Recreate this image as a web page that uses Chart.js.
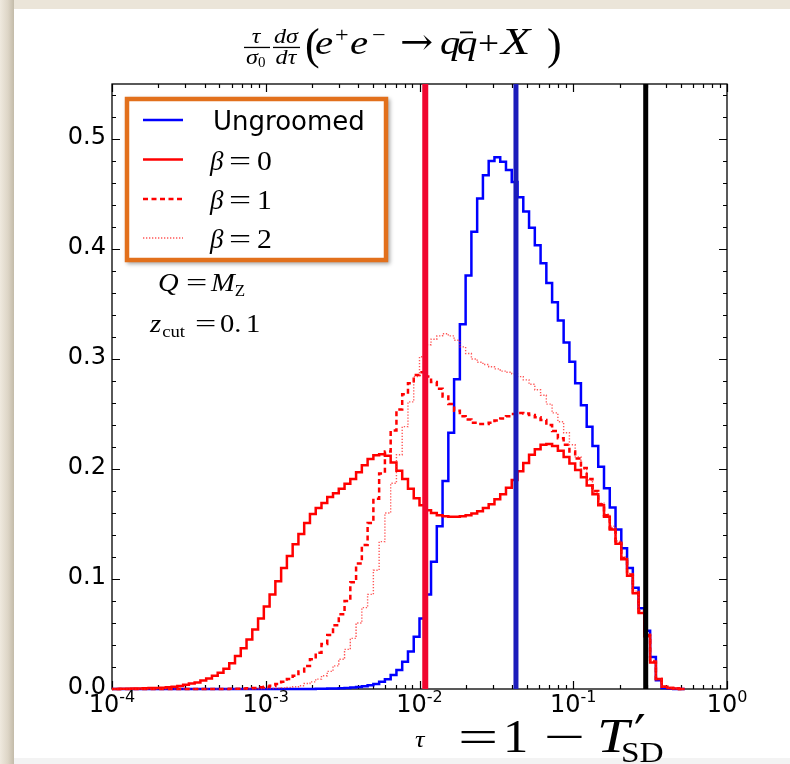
<!DOCTYPE html>
<html>
<head>
<meta charset="utf-8">
<title>tau distribution</title>
<script src="https://cdn.jsdelivr.net/npm/chart.js@4.4.0/dist/chart.umd.min.js"></script>
<style>
  html, body { margin: 0; padding: 0; }
  body {
    width: 790px; height: 764px; overflow: hidden; position: relative;
    background: linear-gradient(to right, #efe9de 0px, #ddd5c6 8px, #c3bba9 14px, #ebe5d9 14px);
  }
  #card { position: absolute; left: 14px; top: 9px; width: 776px; height: 749px; background: #fff; }
  #floor { position: absolute; left: 14px; top: 758px; width: 776px; height: 6px; background: #f3f3f3; }
  #tauChart { position: absolute; left: 0; top: 0; }
</style>
</head>
<body>
<div id="card"></div>
<div id="floor"></div>
<canvas id="tauChart" width="790" height="764"></canvas>
<script>
// histogram binning: uniform in log10(tau)
const tauBinStartLog = -4.025;
const tauBinWidthLog = 0.0375;

// bin contents, one value per bin
const ungroomed = [
  0, 0, 0, 0, 0, 0, 0, 0, 0, 0,
  0, 0, 0, 0, 0, 0, 0, 0, 0, 0,
  0, 0, 0, 0, 0, 0, 0, 0, 0, 0,
  0, 0, 0, 0, 0, 0, 0.0002, 0.0003, 0.0004, 0.0005,
  0.0007, 0.001, 0.0013, 0.0018, 0.0025, 0.0035, 0.0045, 0.0066, 0.0088, 0.0127,
  0.0173, 0.0248, 0.034, 0.0475, 0.064, 0.086, 0.1157, 0.148, 0.189, 0.233,
  0.2815, 0.3315, 0.376, 0.4157, 0.446, 0.467, 0.480, 0.4833, 0.4794, 0.4718,
  0.461, 0.447, 0.434, 0.4194, 0.4033, 0.387, 0.369, 0.3515, 0.335, 0.315,
  0.2976, 0.278, 0.258, 0.2385, 0.221, 0.202, 0.1824, 0.165, 0.145, 0.128,
  0.110, 0.092, 0.0733, 0.053, 0.029, 0.008, 0.001, 0.0005, 0, 0
];
const beta0 = [
  0, 0, 0.0002, 0.0003, 0.0004, 0.0005, 0.0006, 0.0008, 0.001, 0.0012,
  0.0015, 0.002, 0.0027, 0.0038, 0.005, 0.006, 0.0077, 0.0095, 0.012, 0.0148,
  0.0185, 0.0235, 0.030, 0.037, 0.045, 0.054, 0.064, 0.075, 0.086, 0.098,
  0.110, 0.121, 0.1315, 0.141, 0.151, 0.159, 0.1645, 0.169, 0.1745, 0.178,
  0.182, 0.1865, 0.191, 0.197, 0.2035, 0.209, 0.2125, 0.2135, 0.212, 0.206,
  0.1985, 0.191, 0.182, 0.1735, 0.167, 0.1625, 0.160, 0.158, 0.157, 0.1567,
  0.1567, 0.157, 0.158, 0.1595, 0.1615, 0.1645, 0.168, 0.1725, 0.177, 0.183,
  0.190, 0.198, 0.2055, 0.213, 0.218, 0.222, 0.2227, 0.221, 0.2165, 0.211,
  0.205, 0.199, 0.1925, 0.185, 0.177, 0.167, 0.1565, 0.145, 0.132, 0.118,
  0.103, 0.087, 0.069, 0.048, 0.024, 0.009, 0.002, 0.001, 0.0005, 0
];
const beta1 = [
  0, 0, 0, 0, 0, 0, 0, 0, 0, 0,
  0, 0, 0, 0, 0, 0, 0, 0, 0, 0,
  0, 0.0002, 0.0003, 0.0005, 0.0007, 0.001, 0.0015, 0.002, 0.003, 0.0045,
  0.0065, 0.009, 0.012, 0.016, 0.021, 0.027, 0.033, 0.041, 0.049, 0.058,
  0.068, 0.080, 0.097, 0.114, 0.131, 0.151, 0.173, 0.196, 0.216, 0.235,
  0.254, 0.268, 0.278, 0.2855, 0.288, 0.284, 0.279, 0.273, 0.266, 0.259,
  0.253, 0.248, 0.245, 0.242, 0.241, 0.241, 0.242, 0.244, 0.246, 0.248,
  0.250, 0.251, 0.2505, 0.249, 0.247, 0.2445, 0.240, 0.2345, 0.228, 0.222,
  0.216, 0.2095, 0.201, 0.191, 0.180, 0.168, 0.158, 0.146, 0.133, 0.119,
  0.104, 0.088, 0.070, 0.049, 0.025, 0.009, 0.002, 0.001, 0.0005, 0
];
const beta2 = [
  0, 0, 0, 0, 0, 0, 0, 0, 0, 0,
  0, 0, 0, 0, 0, 0, 0, 0, 0, 0,
  0, 0, 0, 0, 0, 0, 0.0002, 0.0003, 0.0005, 0.0007,
  0.001, 0.0015, 0.002, 0.003, 0.005, 0.0065, 0.009, 0.012, 0.016, 0.021,
  0.027, 0.036, 0.046, 0.060, 0.074, 0.086, 0.108, 0.134, 0.160, 0.187,
  0.213, 0.2385, 0.261, 0.284, 0.302, 0.313, 0.318, 0.321, 0.323, 0.321,
  0.317, 0.311, 0.305, 0.300, 0.297, 0.295, 0.293, 0.291, 0.289, 0.288,
  0.2865, 0.284, 0.281, 0.277, 0.272, 0.267, 0.259, 0.251, 0.243, 0.233,
  0.222, 0.211, 0.200, 0.190, 0.179, 0.169, 0.159, 0.148, 0.1345, 0.120,
  0.105, 0.089, 0.071, 0.050, 0.026, 0.009, 0.002, 0.001, 0.0005, 0
];

// vertical markers (tau values)
const markerTau = [0.0109, 0.0424, 0.296];

// axis ticks
const xTickExponents = [-4, -3, -2, -1, 0];
const yTickValues = [0, 0.1, 0.2, 0.3, 0.4, 0.5];
const yTickLabels = ['0.0', '0.1', '0.2', '0.3', '0.4', '0.5'];

// legend
const legendLabels = ['Ungroomed', '\u03b2', '\u03b2', '\u03b2'];
const betaValues = [null, '0', '1', '2'];

const SERIF = '"Liberation Serif", "DejaVu Serif", serif';
const MATHOP = '"DejaVu Serif", serif';
const SANS = '"DejaVu Sans", sans-serif';

function binEdge(k) {
    return Math.pow(10, tauBinStartLog + k * tauBinWidthLog);
}

// turn bin contents into step outline points
function histPoints(values) {
    const pts = [];
    values.forEach(function(v, k) {
        pts.push({ x: binEdge(k), y: v });
        pts.push({ x: binEdge(k + 1), y: v });
    });
    return pts;
}

function markerPoints(t) {
    return [{ x: t, y: 0 }, { x: t, y: 0.55 }];
}

const histStyle = { pointRadius: 0, borderJoinStyle: 'miter', borderCapStyle: 'butt', clip: { left: 0, top: 0, right: 0, bottom: 4 } };

const datasets = [
    { label: 'marker0', data: markerPoints(markerTau[0]), borderColor: '#f0062f', borderWidth: 6, order: 0, pointRadius: 0 },
    { label: 'marker1', data: markerPoints(markerTau[1]), borderColor: '#1c1cbb', borderWidth: 5, order: 0, pointRadius: 0 },
    { label: 'marker2', data: markerPoints(markerTau[2]), borderColor: '#000000', borderWidth: 5, order: 0, pointRadius: 0 },
    Object.assign({ label: 'beta2', data: histPoints(beta2), borderColor: 'rgba(255,30,30,0.75)', borderWidth: 1.4, borderDash: [1.3, 1.7], order: 1 }, histStyle),
    Object.assign({ label: 'beta1', data: histPoints(beta1), borderColor: '#ff0000', borderWidth: 2.5, borderDash: [5, 3.5], order: 2 }, histStyle),
    Object.assign({ label: 'beta0', data: histPoints(beta0), borderColor: '#ff0000', borderWidth: 2.5, order: 3 }, histStyle),
    Object.assign({ label: 'ungroomed', data: histPoints(ungroomed), borderColor: '#0000ff', borderWidth: 2.5, order: 4 }, histStyle)
];

// draw a text piece, optionally stretched sideways (the TeX fonts run wider)
function put(ctx, str, x, y, font, sx) {
    sx = sx || 1;
    ctx.font = font;
    ctx.save();
    ctx.translate(x, y);
    ctx.scale(sx, 1);
    ctx.fillText(str, 0, 0);
    ctx.restore();
    return x + ctx.measureText(str).width * sx;
}

function putCentered(ctx, str, cx, y, font, sx) {
    sx = sx || 1;
    ctx.font = font;
    put(ctx, str, cx - ctx.measureText(str).width * sx / 2, y, font, sx);
}

// frame and inward ticks, drawn under the data
const axesFrame = {
    id: 'axesFrame',
    beforeDatasetsDraw(chart) {
        const ctx = chart.ctx;
        const a = chart.chartArea;
        const xs = chart.scales.x;
        const ys = chart.scales.y;
        ctx.save();
        ctx.strokeStyle = '#000';
        ctx.lineWidth = 1.3;
        ctx.strokeRect(a.left, a.top, a.right - a.left, a.bottom - a.top);
        ctx.lineWidth = 1.2;
        ctx.beginPath();
        function vtick(px, len) {
            ctx.moveTo(px, a.bottom); ctx.lineTo(px, a.bottom - len);
            ctx.moveTo(px, a.top); ctx.lineTo(px, a.top + len);
        }
        function htick(py, len) {
            ctx.moveTo(a.left, py); ctx.lineTo(a.left + len, py);
            ctx.moveTo(a.right, py); ctx.lineTo(a.right - len, py);
        }
        xTickExponents.forEach(function(e, i) {
            const base = Math.pow(10, e);
            vtick(Math.round(xs.getPixelForValue(base)) + 0.5, 8);
            if (i < xTickExponents.length - 1) {
                for (let m = 2; m <= 9; m++) {
                    vtick(Math.round(xs.getPixelForValue(m * base)) + 0.5, 4);
                }
            }
        });
        for (let i = 1; i <= 27; i++) {
            const py = Math.round(ys.getPixelForValue(i * 0.02)) + 0.5;
            htick(py, i % 5 === 0 ? 8 : 4);
        }
        ctx.stroke();
        ctx.restore();
    }
};

// tick labels, legend, annotations, title and axis label
const textLayer = {
    id: 'textLayer',
    afterDatasetsDraw(chart) {
        const ctx = chart.ctx;
        const xs = chart.scales.x;
        const ys = chart.scales.y;
        ctx.save();
        ctx.fillStyle = '#000';
        ctx.textBaseline = 'alphabetic';

        // x tick labels 10^n
        xTickExponents.forEach(function(e) {
            const px = xs.getPixelForValue(Math.pow(10, e));
            ctx.font = '24px ' + SANS;
            const w1 = ctx.measureText('10').width;
            ctx.font = '16px ' + SANS;
            const sup = e === 0 ? '0' : '-' + Math.abs(e);
            const w2 = ctx.measureText(sup).width;
            const x0 = px - (w1 + w2) / 2;
            put(ctx, '10', x0, 712, '24px ' + SANS);
            put(ctx, sup, x0 + w1, 702, '16px ' + SANS);
        });

        // y tick labels
        ctx.textAlign = 'right';
        ctx.textBaseline = 'middle';
        ctx.font = '24px ' + SANS;
        yTickValues.forEach(function(v, i) {
            ctx.fillText(yTickLabels[i], 106, ys.getPixelForValue(v) - 1);
        });
        ctx.textAlign = 'left';
        ctx.textBaseline = 'alphabetic';

        // legend box
        ctx.save();
        ctx.shadowColor = 'rgba(0,0,0,0.35)';
        ctx.shadowBlur = 4;
        ctx.shadowOffsetX = 2;
        ctx.shadowOffsetY = 2;
        ctx.fillStyle = '#ffffff';
        ctx.fillRect(125, 97, 263, 165);
        ctx.restore();
        ctx.save();
        ctx.strokeStyle = '#e2701c';
        ctx.lineWidth = 4.5;
        ctx.strokeRect(127, 99, 259, 161);
        ctx.restore();

        const rowY = [120, 159.5, 199, 238];
        const rowBase = [130, 170, 209, 248];
        const sampleStyles = [datasets[6], datasets[5], datasets[4], datasets[3]];
        sampleStyles.forEach(function(ds, i) {
            ctx.save();
            ctx.strokeStyle = ds.borderColor;
            ctx.lineWidth = ds.borderWidth;
            ctx.setLineDash(ds.borderDash || []);
            ctx.beginPath();
            ctx.moveTo(143, rowY[i]);
            ctx.lineTo(183, rowY[i]);
            ctx.stroke();
            ctx.restore();
        });
        ctx.fillStyle = '#000';
        put(ctx, legendLabels[0], 213, rowBase[0], '26px ' + SANS);
        for (let i = 1; i < 4; i++) {
            put(ctx, legendLabels[i], 210, rowBase[i], 'italic 27px ' + SERIF);
            put(ctx, '=', 229, rowBase[i], '27px ' + SERIF, 1.45);
            put(ctx, betaValues[i], 257, rowBase[i], '27px ' + SERIF, 1.1);
        }

        // Q = M_Z
        put(ctx, 'Q', 158, 291, 'italic 26px ' + SERIF, 1.1);
        put(ctx, '=', 186, 291, '26px ' + SERIF, 1.45);
        let xm = put(ctx, 'M', 211, 291, 'italic 26px ' + SERIF, 1.1);
        put(ctx, 'Z', xm, 296, '17px ' + SERIF);
        // z_cut = 0.1
        let xz = put(ctx, 'z', 150, 332, 'italic 26px ' + SERIF, 1.1);
        put(ctx, 'cut', xz + 1, 337, '17px ' + SERIF, 1.1);
        put(ctx, '=', 195, 332, '26px ' + SERIF, 1.45);
        put(ctx, '0.', 220, 332, '26px ' + SERIF, 1.1);
        put(ctx, '1', 246, 332, '26px ' + SERIF, 1.1);

        // title
        putCentered(ctx, '\u03c4', 256, 43, 'italic 22px ' + SERIF, 1.1);
        ctx.fillRect(244, 46.8, 26, 1.3);
        let xs0 = put(ctx, '\u03c3', 246, 64, 'italic 22px ' + SERIF, 1.1);
        put(ctx, '0', xs0, 67, '15px ' + SERIF);
        putCentered(ctx, 'd\u03c3', 286, 43, 'italic 22px ' + SERIF, 1.1);
        ctx.fillRect(273, 46.8, 27, 1.3);
        putCentered(ctx, 'd\u03c4', 286, 64, 'italic 22px ' + SERIF, 1.1);
        put(ctx, '(', 305, 59, '44px ' + SERIF);
        put(ctx, 'e', 315, 54, 'italic 34px ' + SERIF, 1.2);
        put(ctx, '+', 335, 42, '22px ' + SERIF, 1.1);
        put(ctx, 'e', 350, 54, 'italic 34px ' + SERIF, 1.2);
        put(ctx, '\u2212', 372, 42, '22px ' + SERIF, 1.1);
        put(ctx, '\u2192', 400, 54, '36px ' + MATHOP, 1.1);
        put(ctx, 'q', 440, 54, 'italic 34px ' + SERIF, 1.2);
        put(ctx, 'q', 457, 54, 'italic 34px ' + SERIF, 1.2);
        ctx.fillRect(460, 31.5, 13, 1.8);
        put(ctx, '+', 478, 54, '34px ' + SERIF, 1.1);
        put(ctx, 'X', 501, 54, 'italic 37px ' + SERIF, 1.3);
        put(ctx, ')', 547, 59, '44px ' + SERIF);

        // x axis label
        put(ctx, '\u03c4', 415, 747, 'italic 24px ' + SERIF, 1.1);
        put(ctx, '=', 458, 752, '46px ' + SERIF, 1.55);
        put(ctx, '1', 503, 752, '46px ' + SERIF, 1.1);
        put(ctx, '\u2212', 544, 752, '46px ' + SERIF, 1.6);
        put(ctx, 'T', 597, 752, 'italic 48px ' + SERIF, 1.2);
        put(ctx, '\u2032', 634, 752, '52px ' + MATHOP);
        put(ctx, 'SD', 621, 762, '29px ' + SERIF, 1.15);

        ctx.restore();
    }
};

const chart = new Chart(document.getElementById('tauChart').getContext('2d'), {
    type: 'line',
    data: { datasets: datasets },
    options: {
        responsive: false,
        animation: false,
        layout: { padding: { left: 112, right: 63, top: 84, bottom: 75 } },
        scales: {
            x: { type: 'logarithmic', min: 1e-4, max: 1, display: false },
            y: { type: 'linear', min: 0, max: 0.55, display: false }
        },
        elements: { point: { radius: 0 }, line: { tension: 0 } },
        plugins: { legend: { display: false }, tooltip: { enabled: false } }
    },
    plugins: [axesFrame, textLayer]
});
</script>
</body>
</html>
